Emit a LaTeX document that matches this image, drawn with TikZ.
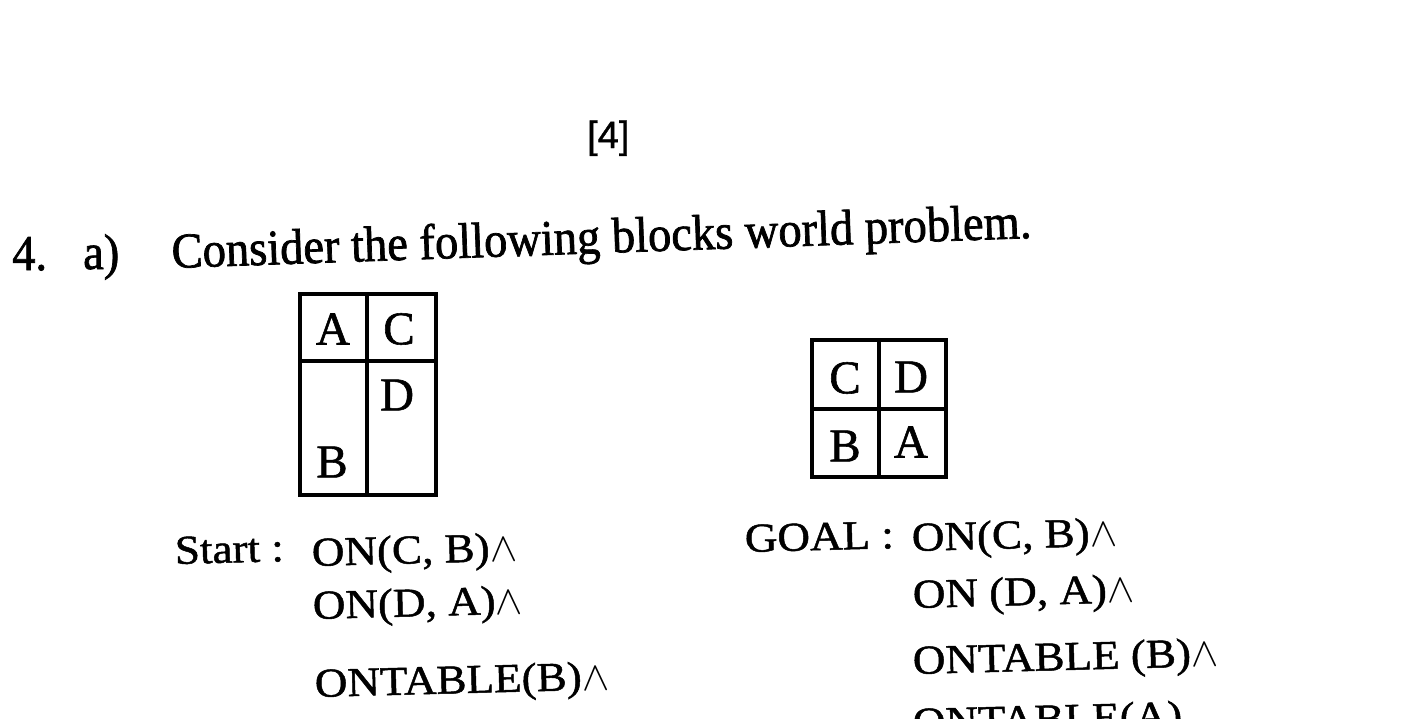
\RequirePackage{fix-cm}
\documentclass[tikz,border=0pt]{standalone}
\usepackage{fontspec}
\setmainfont[FakeBold=1.2]{Liberation Serif}
\newfontfamily\bodyfont[FakeStretch=1.1,FakeBold=1.2]{Liberation Serif}
\newfontfamily\titlefont[FakeStretch=0.93,FakeBold=1.4]{Liberation Serif}
\newfontfamily\pagefont[FakeBold=1]{Liberation Sans}
\tikzset{
  bodytxt/.style={inner sep=0pt, anchor=base west, rotate=1.5,
    font=\bodyfont\fontsize{41}{41}\selectfont},
  titletxt/.style={inner sep=0pt, anchor=base west,
    font=\titlefont\fontsize{50}{50}\selectfont},
  blocklbl/.style={inner sep=0pt, anchor=center,
    font=\fontsize{47}{47}\selectfont},
  blockline/.style={line width=3.5pt, line cap=rect, line join=miter},
}
\begin{document}
\begin{tikzpicture}[x=1pt,y=1pt]
\useasboundingbox (0,0) rectangle (1401,-718);
\fill[white] (0,0) rectangle (1401,-718);
\clip (0,0) rectangle (1401,-718);

% page number
\node[inner sep=0pt, anchor=base west, font=\pagefont\fontsize{38}{38}\selectfont] (pg) at (587,-148) {[4]};

% question heading
\node[titletxt] (qnum) at (12,-270) {4.};
\node[titletxt] (qpart) at (83,-269) {a)};
\node[titletxt, rotate=2] (qtext) at (172,-268) {Consider the following blocks world problem.};

% start configuration
\draw[blockline] (300,-294) rectangle (436,-495);
\draw[blockline] (367,-294) -- (367,-495);
\draw[blockline] (300,-361) -- (436,-361);
\node[blocklbl] (sA) at (333,-329) {A};
\node[blocklbl] (sC) at (399,-329) {C};
\node[blocklbl] (sD) at (397,-395) {D};
\node[blocklbl] (sB) at (332,-462) {B};

% goal configuration
\draw[blockline] (812,-340) rectangle (946,-477);
\draw[blockline] (879,-340) -- (879,-477);
\draw[blockline] (812,-409) -- (946,-409);
\node[blocklbl] (gC) at (845,-378) {C};
\node[blocklbl] (gD) at (911,-377) {D};
\node[blocklbl] (gB) at (845,-446) {B};
\node[blocklbl] (gA) at (911,-442) {A};

% start description
\node[bodytxt] (slbl) at (175,-564) {Start :};
\node[bodytxt] (s1) at (312,-566) {ON(C, B)$\wedge$};
\node[bodytxt] (s2) at (313,-619) {ON(D, A)$\wedge$};
\node[bodytxt] (s3) at (315,-697) {ONTABLE(B)$\wedge$};
\node[bodytxt] (s4) at (315,-756) {ONTABLE(A)};

% goal description
\node[bodytxt] (glbl) at (745,-552) {GOAL :};
\node[bodytxt] (g1) at (912,-551) {ON(C, B)$\wedge$};
\node[bodytxt] (g2) at (913,-608) {ON (D, A)$\wedge$};
\node[bodytxt] (g3) at (913,-674) {ONTABLE (B)$\wedge$};
\node[bodytxt] (g4) at (913,-736) {ONTABLE(A)};
\end{tikzpicture}
\end{document}
